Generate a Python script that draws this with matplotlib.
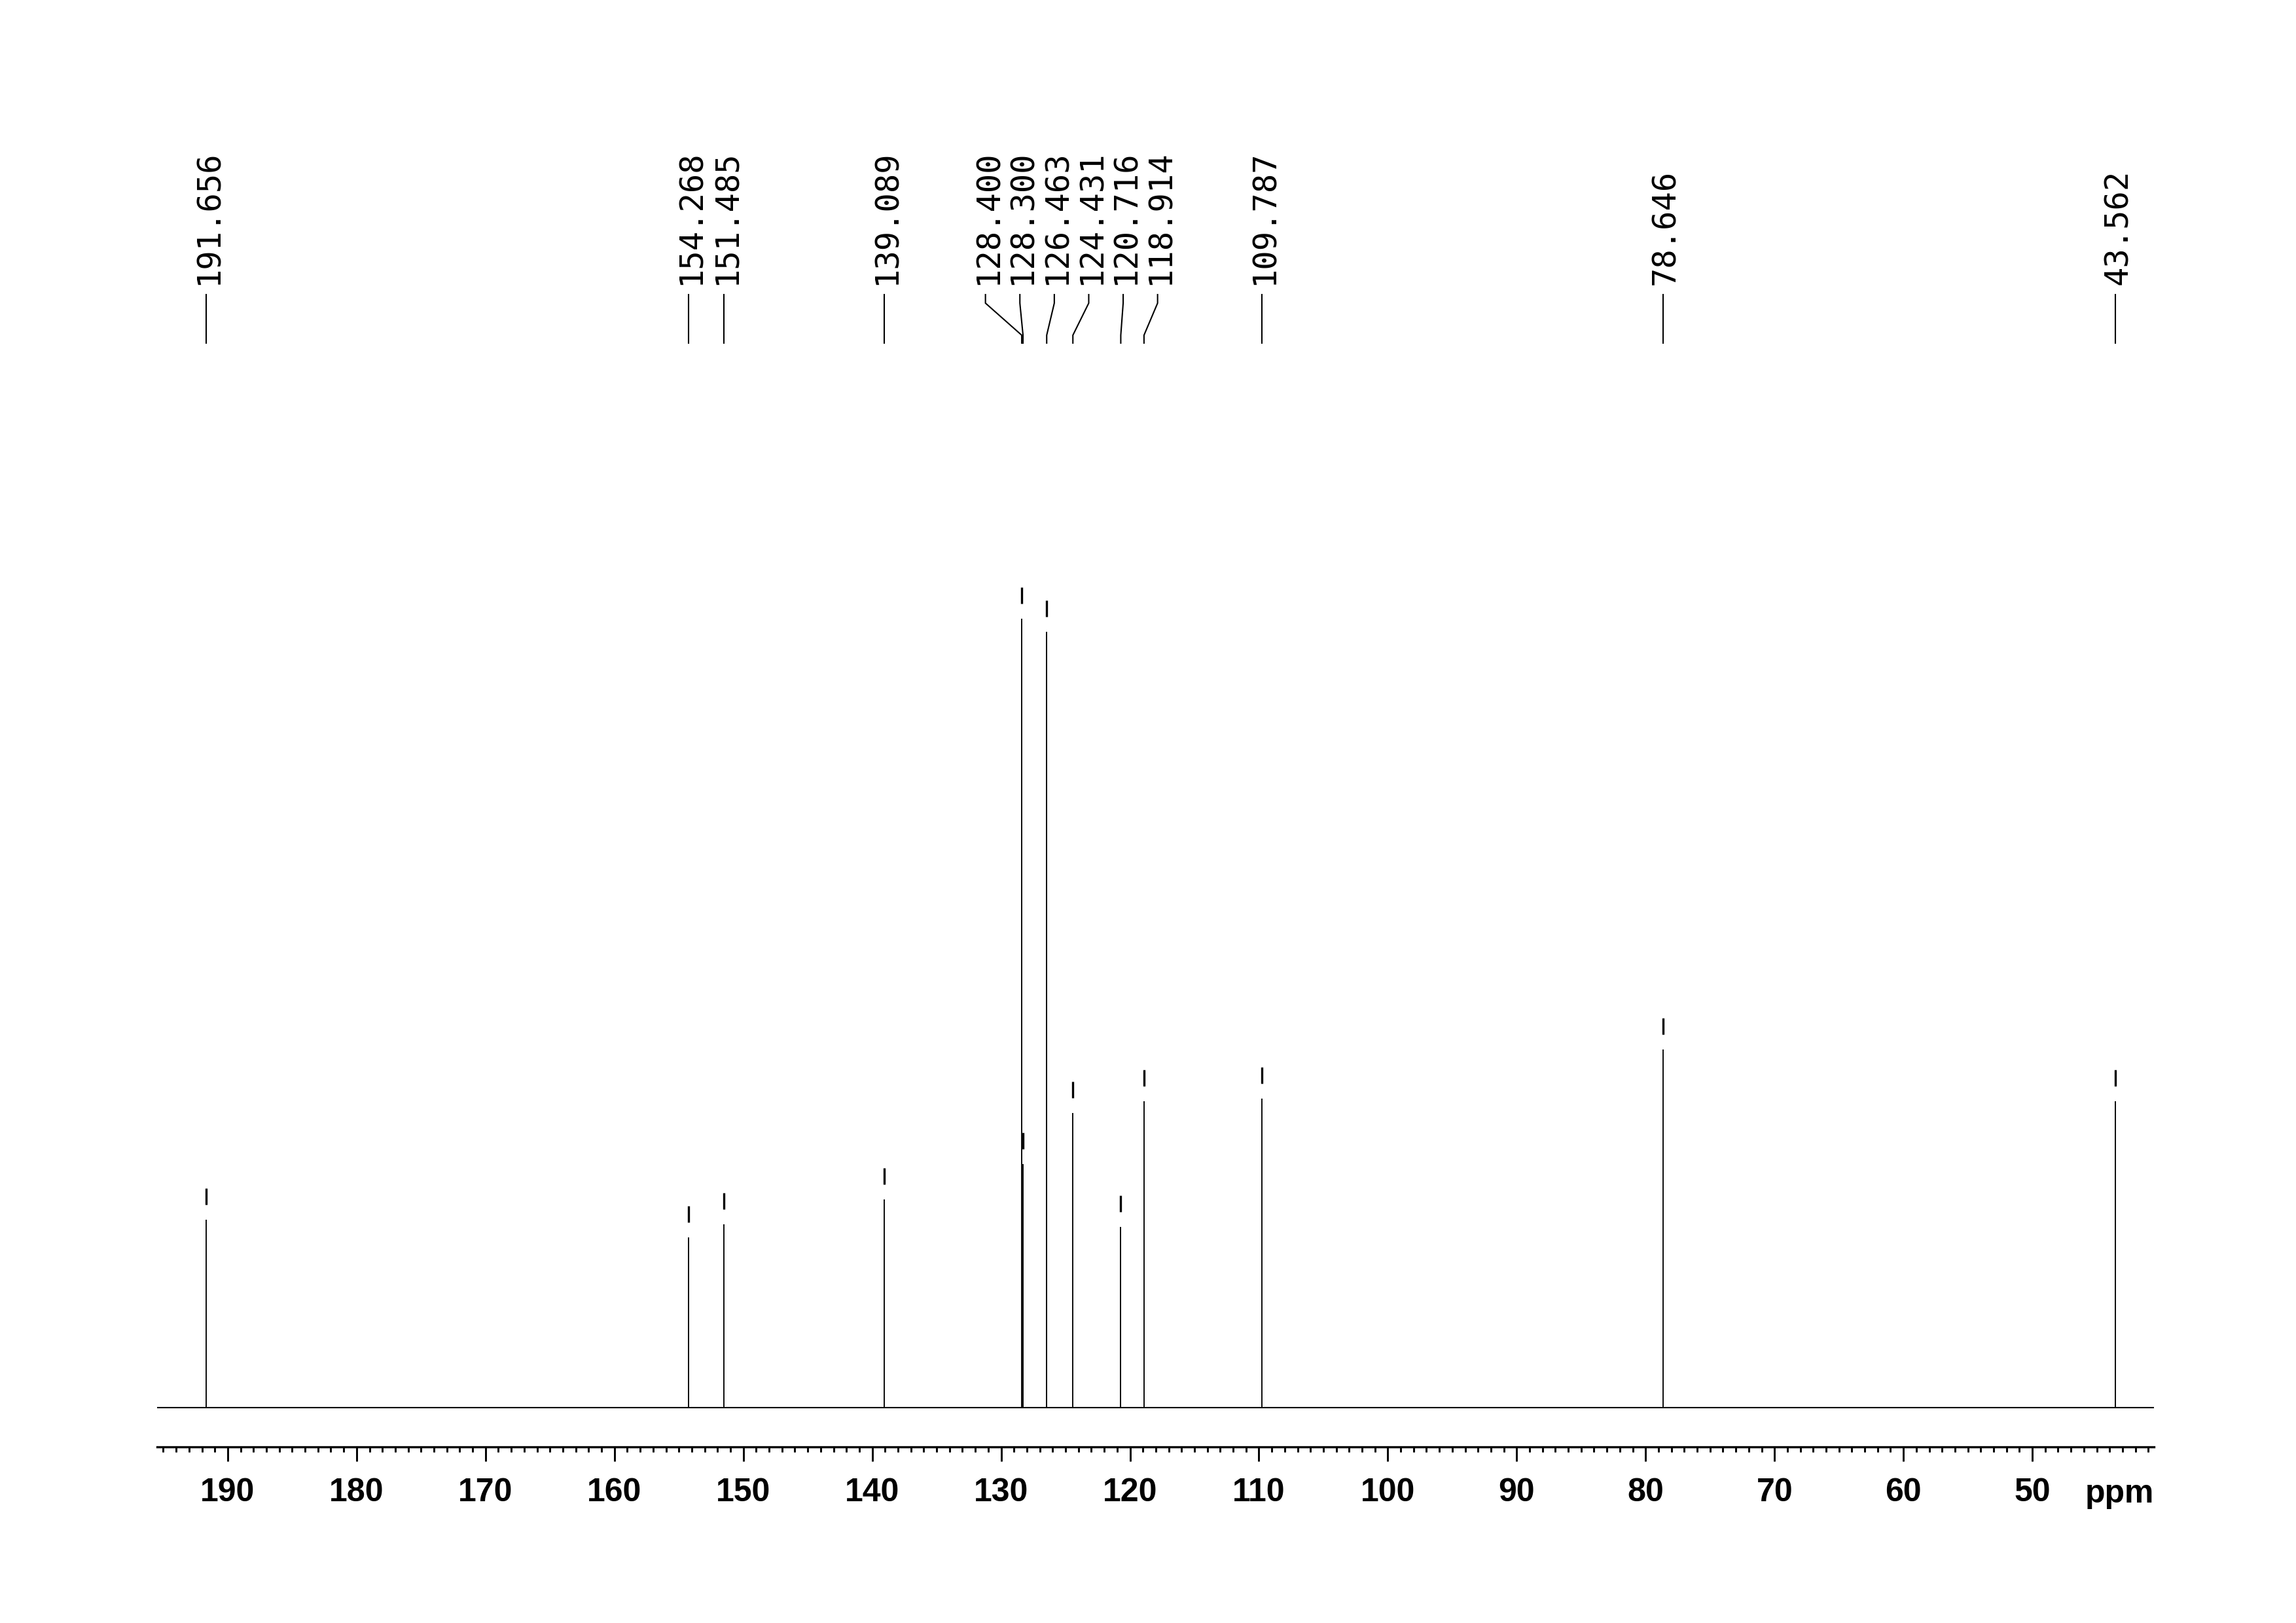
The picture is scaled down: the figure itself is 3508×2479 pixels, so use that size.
import matplotlib
matplotlib.use("Agg")
import matplotlib.pyplot as plt
import matplotlib.transforms as mtransforms
from matplotlib.ticker import MultipleLocator
import numpy as np

# ---- data ----
peak_ppm = [191.656, 154.268, 151.485, 139.089, 128.400, 128.300, 126.463,
            124.431, 120.716, 118.914, 109.787, 78.646, 43.562]
peak_intensity = [287, 260, 280, 318, 1205, 372, 1185,
                  450, 276, 468, 472, 547, 468]
peak_labels = ["191.656", "154.268", "151.485", "139.089", "128.400", "128.300",
               "126.463", "124.431", "120.716", "118.914", "109.787", "78.646", "43.562"]
major_ticks = [190, 180, 170, 160, 150, 140, 130, 120, 110, 100, 90, 80, 70, 60, 50]
x_range = (195.48, 40.56)
axis_title = "ppm"

# ---- figure ----
W, H = 3508, 2479
fig = plt.figure(figsize=(W / 300, H / 300), dpi=300)
ax_left, ax_right = 240, 3291
ax_bottom, ax_top = 2210, 100
ax = fig.add_axes([ax_left / W, (H - ax_bottom) / H,
                   (ax_right - ax_left) / W, (ax_bottom - ax_top) / H])
ax.set_xlim(*x_range)
ax.set_ylim(-60, 2050)

# baseline and peaks
ax.axhline(0, color="black", lw=0.5)
ax.vlines(peak_ppm, 0, peak_intensity, color="black", lw=0.45)

# small bars above peak tops
tops = np.array(peak_intensity)
ax.vlines(peak_ppm, tops + 23, tops + 48, color="black", lw=0.8)

# ---- label placement (spread overlapping labels) ----
px_per_ppm = (ax_right - ax_left) / (x_range[0] - x_range[1])
min_gap = 52.6 / px_per_ppm

order = np.argsort(-np.array(peak_ppm))
groups = [[i] for i in order]


def group_positions(g):
    c = np.mean([peak_ppm[i] for i in g])
    n = len(g)
    return [c + ((n - 1) / 2 - k) * min_gap for k in range(n)]


changed = True
while changed:
    changed = False
    for gi in range(len(groups) - 1):
        a = group_positions(groups[gi])
        b = group_positions(groups[gi + 1])
        if a[-1] - b[0] < min_gap - 1e-9:
            groups[gi] = groups[gi] + groups[gi + 1]
            del groups[gi + 1]
            changed = True
            break

label_x = {}
for g in groups:
    for i, p in zip(g, group_positions(g)):
        label_x[i] = p

y_text = 1715
y_l1, y_k1, y_k2, y_l2 = 1700, 1687, 1638, 1626

fs_lab = 11.7
cap_shift = mtransforms.ScaledTranslation(0.729 * fs_lab / 2 / 72, 0, fig.dpi_scale_trans)
for i in range(len(peak_ppm)):
    lx = label_x[i]
    px = peak_ppm[i]
    ax.plot([lx, lx, px, px], [y_l1, y_k1, y_k2, y_l2], color="black", lw=0.5,
            solid_joinstyle="miter")
    ax.text(lx, y_text, peak_labels[i], rotation=90, rotation_mode="anchor",
            ha="left", va="baseline", fontsize=fs_lab, family="DejaVu Sans Mono",
            transform=ax.transData + cap_shift)

# ---- axis styling ----
for s in ("top", "left", "right"):
    ax.spines[s].set_visible(False)
ax.spines["bottom"].set_linewidth(0.8)
ax.set_yticks([])
ax.xaxis.set_major_locator(plt.FixedLocator(major_ticks))
ax.xaxis.set_minor_locator(MultipleLocator(1))
ax.tick_params(axis="x", which="major", direction="out", length=5.3, width=0.7,
               pad=6.0, labelsize=12)
ax.tick_params(axis="x", which="minor", direction="out", length=2.0, width=0.7)
for t in ax.get_xticklabels():
    t.set_fontweight("bold")
    t.set_family("Liberation Sans")

fig.text(ax_right / W, (H - 2295) / H, axis_title, ha="right", va="baseline",
         fontsize=12, fontweight="bold", family="Liberation Sans")

fig.savefig("out.png", dpi=300, facecolor="white")
